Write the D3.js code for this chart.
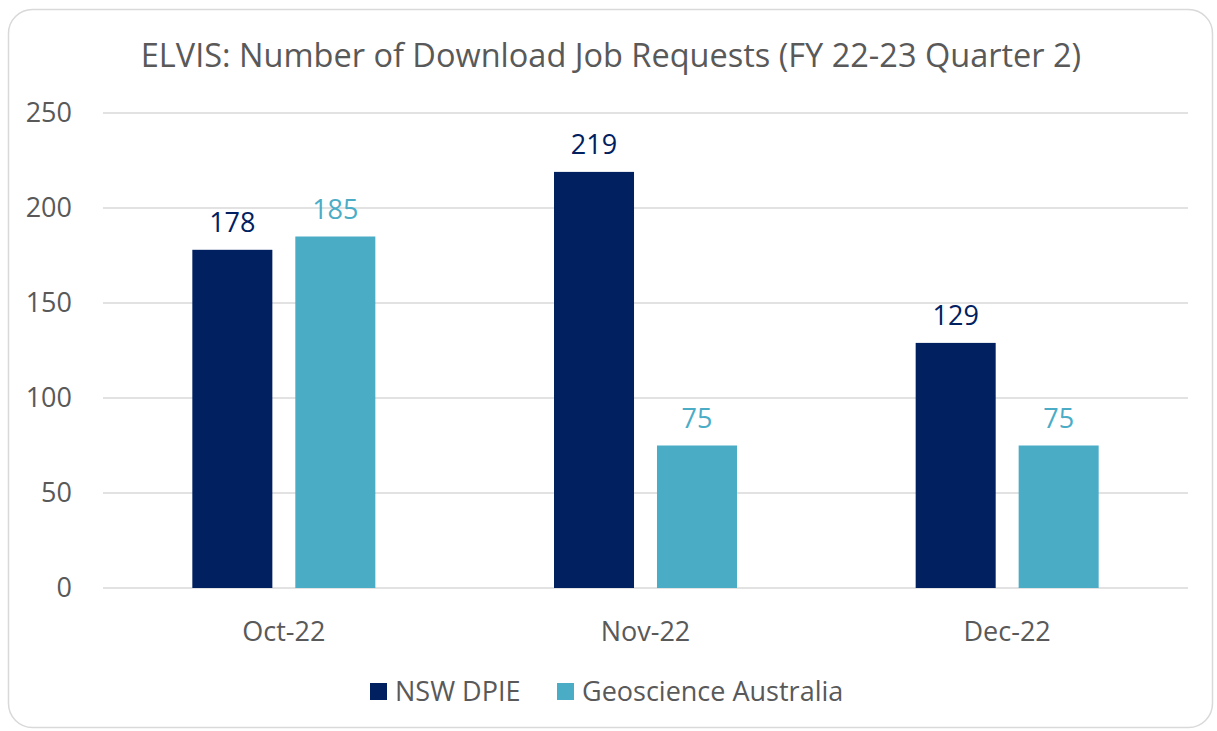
<!DOCTYPE html>
<html>
<head>
<meta charset="utf-8">
<script src="https://cdn.jsdelivr.net/npm/d3@7"></script>
<style>
  body { margin: 0; background: #fff; }
  svg { display: block; font-family: "Open Sans", sans-serif; }
</style>
</head>
<body>
<div id="chart"></div>
<script>
// data
var months = ["Oct-22", "Nov-22", "Dec-22"];
var seriesNames = ["NSW DPIE", "Geoscience Australia"];
var nswValues = [178, 219, 129];
var gaValues = [185, 75, 75];
var yTicks = [0, 50, 100, 150, 200, 250];
var colors = ["#002060", "#4bacc6"];

var W = 1217, H = 731;
var margin = {top: 113, right: 29, bottom: 143, left: 103},
    width = W - margin.left - margin.right,
    height = H - margin.top - margin.bottom;

var svg = d3.select("#chart").append("svg")
  .attr("width", W)
  .attr("height", H);

// card outline
svg.append("rect")
  .attr("x", 8.5).attr("y", 9.5)
  .attr("width", 1204).attr("height", 718)
  .attr("rx", 24)
  .attr("fill", "#fff")
  .attr("stroke", "#d9d9d9")
  .attr("stroke-width", 1.5);

// title
svg.append("text")
  .attr("x", 611)
  .attr("y", 67)
  .attr("text-anchor", "middle")
  .style("font-size", "32.5px")
  .attr("fill", "#595959")
  .text("ELVIS: Number of Download Job Requests (FY 22-23 Quarter 2)");

var chart = svg.append("g")
  .attr("transform", "translate(" + margin.left + "," + margin.top + ")");

var x0 = d3.scaleBand().domain(months).range([0, width]);
var x1 = d3.scaleBand().domain([0, 1]).range([0, 183]).paddingInner(0.223);
var y = d3.scaleLinear().domain([0, 250]).range([height, 0]);

// gridlines
chart.append("g")
  .selectAll("line")
  .data(yTicks)
  .join("line")
    .attr("x1", 0).attr("x2", width)
    .attr("y1", d => y(d)).attr("y2", d => y(d))
    .attr("stroke", "#d9d9d9")
    .attr("stroke-width", 1.5);

// y labels
chart.append("g")
  .selectAll("text")
  .data(yTicks)
  .join("text")
    .attr("x", -31)
    .attr("y", d => y(d))
    .attr("dy", "0.35em")
    .attr("text-anchor", "end")
    .style("font-size", "27px")
    .attr("fill", "#595959")
    .text(d => d);

// x labels
chart.append("g")
  .selectAll("text")
  .data(months)
  .join("text")
    .attr("x", d => x0(d) + x0.bandwidth() / 2)
    .attr("y", height + 53)
    .attr("text-anchor", "middle")
    .style("font-size", "27px")
    .attr("fill", "#595959")
    .text(d => d);

var rows = [];
months.forEach((m, i) => {
  rows.push({month: m, s: 0, v: nswValues[i]});
  rows.push({month: m, s: 1, v: gaValues[i]});
});

var groupOffset = (x0.bandwidth() - 183) / 2;

chart.append("g")
  .selectAll("rect")
  .data(rows)
  .join("rect")
    .attr("x", d => x0(d.month) + groupOffset + x1(d.s))
    .attr("y", d => y(d.v))
    .attr("width", x1.bandwidth())
    .attr("height", d => height - y(d.v))
    .attr("fill", d => colors[d.s]);

chart.append("g")
  .selectAll("text")
  .data(rows)
  .join("text")
    .attr("x", d => x0(d.month) + groupOffset + x1(d.s) + x1.bandwidth() / 2)
    .attr("y", d => y(d.v) - 18)
    .attr("text-anchor", "middle")
    .style("font-size", "27px")
    .attr("fill", d => colors[d.s])
    .text(d => d.v);

// legend
var legend = svg.append("g").attr("transform", "translate(370,683)");
var lx = [0, 187];
seriesNames.forEach((name, i) => {
  var g = legend.append("g").attr("transform", "translate(" + lx[i] + ",0)");
  g.append("rect").attr("width", 17).attr("height", 17).attr("fill", colors[i]);
  g.append("text")
    .attr("x", 25).attr("y", 8.5).attr("dy", "0.35em")
    .style("font-size", "27px")
    .attr("fill", "#595959")
    .text(name);
});
</script>
</body>
</html>
